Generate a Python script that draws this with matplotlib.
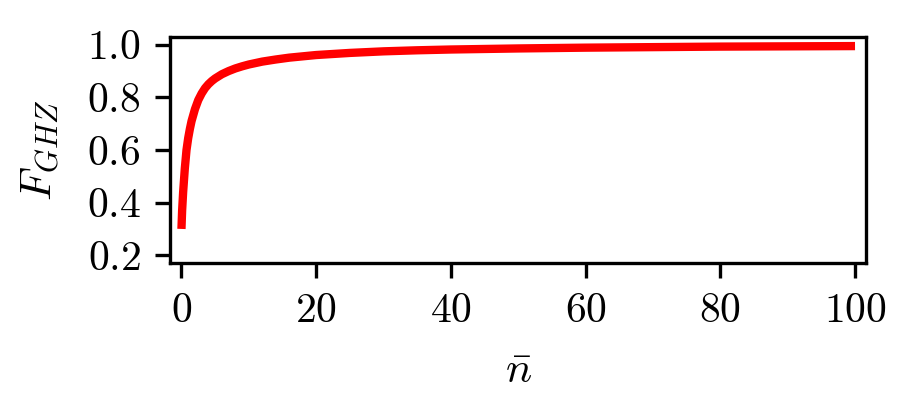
import matplotlib
matplotlib.use("Agg")
import matplotlib.pyplot as plt

# values
n_bar = [0, 0.1, 0.25, 0.5, 0.75, 1, 1.25, 1.5, 2, 2.5, 3, 3.5, 4, 4.5, 5, 6,
         7, 8, 9, 10, 12, 14, 16, 18, 20, 25, 30, 35, 40, 50, 60, 70, 80, 90, 100]
fidelity = [0.30, 0.37, 0.44, 0.53, 0.60, 0.645, 0.68, 0.71, 0.755, 0.79,
            0.815, 0.835, 0.85, 0.862, 0.872, 0.888, 0.90, 0.91, 0.918, 0.925,
            0.936, 0.944, 0.951, 0.956, 0.961, 0.969, 0.975, 0.979, 0.982,
            0.986, 0.989, 0.991, 0.993, 0.994, 0.995]

x_ticks = [0, 20, 40, 60, 80, 100]
y_ticks = [0.2, 0.4, 0.6, 0.8, 1.0]

plt.rcParams["mathtext.fontset"] = "cm"
plt.rcParams["font.family"] = "serif"
plt.rcParams["font.serif"] = ["cmr10", "DejaVu Serif"]
plt.rcParams["axes.formatter.use_mathtext"] = True
plt.rcParams["font.size"] = 10

fig = plt.figure(figsize=(914 / 300, 419 / 300), dpi=300)
ax = fig.add_axes([0.186, 0.372, 0.762, 0.540])

ax.plot(n_bar, fidelity, color="#ff0000", lw=2.0, solid_capstyle="butt")

ax.set_xlim(-1.7, 101.7)
ax.set_ylim(0.17, 1.03)
ax.set_xticks(x_ticks)
ax.set_yticks(y_ticks)
ax.set_xticklabels(["$%d$" % t for t in x_ticks])
ax.set_yticklabels(["$%.1f$" % t for t in y_ticks])

ax.set_xlabel(r"$\bar{n}$", labelpad=5, fontsize=10.5)
ax.set_ylabel(r"$F_{GHZ}$", labelpad=6, fontsize=10.5)

fig.savefig("out.png", dpi=300)
